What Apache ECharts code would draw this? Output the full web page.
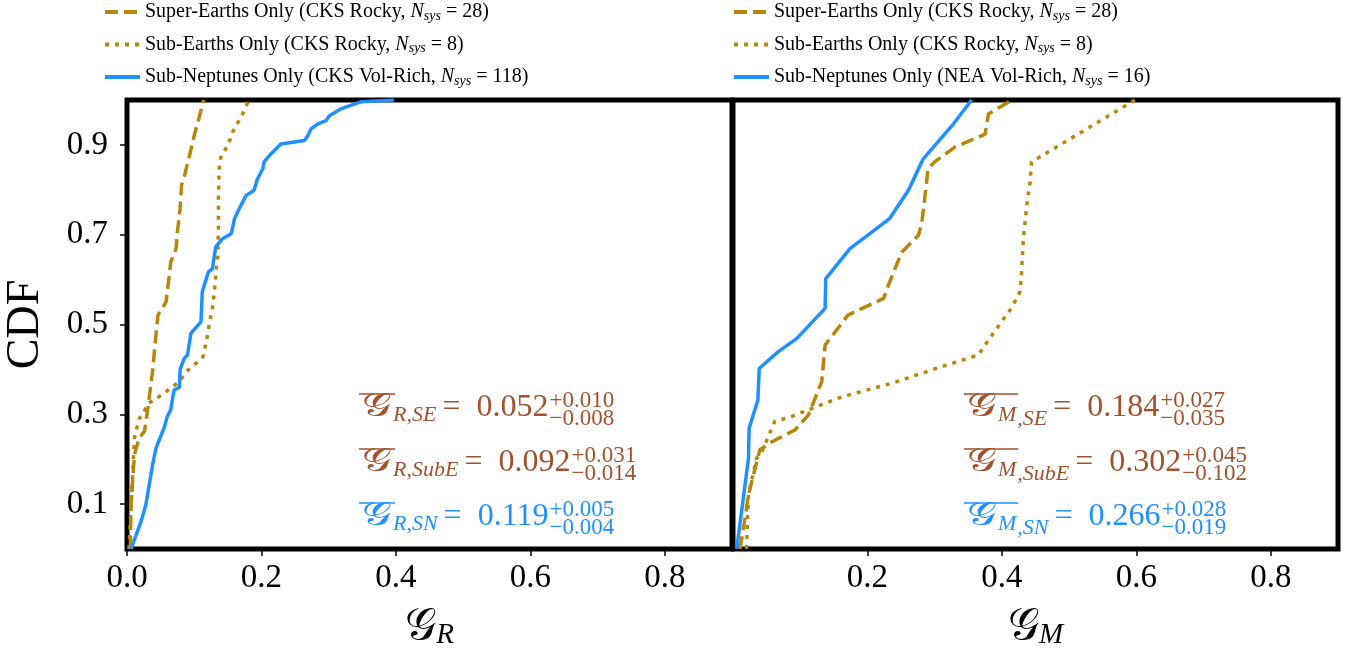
<!DOCTYPE html>
<html><head><meta charset="utf-8">
<script src="https://cdn.jsdelivr.net/npm/echarts@6/dist/echarts.min.js"></script>
<style>html,body{margin:0;padding:0;background:#fff}#c{width:1347px;height:655px}</style>
</head><body><div id="c"></div>
<script>
// ---------- DATA ----------
const nameSE = 'Super-Earths Only (CKS Rocky, N_sys = 28)';
const nameSubE = 'Sub-Earths Only (CKS Rocky, N_sys = 8)';
const nameSN_CKS = 'Sub-Neptunes Only (CKS Vol-Rich, N_sys = 118)';
const nameSN_NEA = 'Sub-Neptunes Only (NEA Vol-Rich, N_sys = 16)';

const xTicksLeft = [0.0, 0.2, 0.4, 0.6, 0.8];
const xTicksRight = [0.2, 0.4, 0.6, 0.8];
const yTicks = [0.1, 0.3, 0.5, 0.7, 0.9];

// Left panel: G_R
const seR_x = [0.005,0.006,0.011,0.018,0.026,0.031,0.038,0.043,0.046,0.058,0.063,0.065,0.073,0.075,0.079,0.081,0.085,0.093,0.100,0.108,0.114];
const seR_y = [0.0,0.098,0.21,0.247,0.262,0.313,0.395,0.476,0.521,0.55,0.61,0.639,0.669,0.706,0.758,0.81,0.828,0.876,0.921,0.965,1.0];
const subR_x = [0.003,0.011,0.018,0.023,0.031,0.041,0.051,0.065,0.078,0.088,0.100,0.113,0.119,0.122,0.127,0.130,0.132,0.135,0.136,0.136,0.137,0.140,0.150,0.157,0.165,0.172,0.181];
const subR_y = [0.0,0.247,0.29,0.298,0.324,0.332,0.343,0.358,0.373,0.395,0.41,0.428,0.469,0.498,0.536,0.573,0.61,0.654,0.713,0.78,0.847,0.876,0.898,0.928,0.95,0.969,1.0];
const snR_x = [0.006,0.021,0.028,0.038,0.043,0.055,0.060,0.065,0.070,0.078,0.079,0.085,0.090,0.095,0.110,0.112,0.121,0.127,0.132,0.142,0.155,0.160,0.167,0.177,0.189,0.194,0.202,0.204,0.214,0.229,0.264,0.269,0.274,0.284,0.296,0.301,0.318,0.338,0.348,0.397];
const snR_y = [0.0,0.062,0.098,0.187,0.224,0.269,0.295,0.31,0.354,0.36,0.40,0.424,0.432,0.48,0.506,0.573,0.617,0.624,0.673,0.691,0.702,0.736,0.758,0.787,0.799,0.824,0.847,0.862,0.88,0.902,0.91,0.921,0.936,0.947,0.954,0.965,0.98,0.991,0.996,1.0];

// Right panel: G_M
const seM_x = [0.0104,0.018,0.023,0.033,0.040,0.058,0.092,0.112,0.119,0.132,0.137,0.171,0.224,0.231,0.251,0.276,0.281,0.288,0.290,0.300,0.330,0.375,0.380,0.415];
const seM_y = [0.0,0.069,0.121,0.18,0.221,0.239,0.265,0.298,0.324,0.373,0.454,0.521,0.558,0.587,0.661,0.699,0.728,0.817,0.847,0.862,0.895,0.924,0.969,1.0];
const subM_x = [0.020,0.023,0.035,0.043,0.062,0.087,0.112,0.162,0.236,0.310,0.365,0.385,0.414,0.427,0.429,0.432,0.437,0.442,0.444,0.598];
const subM_y = [0.0,0.121,0.202,0.217,0.284,0.295,0.31,0.339,0.369,0.406,0.432,0.476,0.536,0.573,0.61,0.691,0.765,0.817,0.862,1.0];
const snM_x = [0.0055,0.023,0.024,0.037,0.039,0.067,0.095,0.137,0.138,0.174,0.233,0.261,0.283,0.328,0.355];
const snM_y = [0.0,0.202,0.269,0.332,0.402,0.439,0.469,0.536,0.602,0.669,0.736,0.799,0.869,0.947,1.0];

// Annotation texts
const annoR = [
  {sub: 'R,SE', val: '0.052', up: '+0.010', dn: '\u22120.008', kind: 'rocky'},
  {sub: 'R,SubE', val: '0.092', up: '+0.031', dn: '\u22120.014', kind: 'rocky'},
  {sub: 'R,SN', val: '0.119', up: '+0.005', dn: '\u22120.004', kind: 'sn'}
];
const annoM = [
  {sub: 'M', sub2: ',SE', val: '0.184', up: '+0.027', dn: '\u22120.035', kind: 'rocky'},
  {sub: 'M', sub2: ',SubE', val: '0.302', up: '+0.045', dn: '\u22120.102', kind: 'rocky'},
  {sub: 'M', sub2: ',SN', val: '0.266', up: '+0.028', dn: '\u22120.019', kind: 'sn'}
];

// ---------- STYLE ----------
const GOLD = '#B8860B', BLUE = '#1E90FF', SIENNA = '#A0522D';
const SERIF = '"Liberation Serif", "DejaVu Serif", serif';
const MATHF = '"Liberation Serif", "DejaVu Serif", "DejaVu Sans", serif';

const zip = (xs, ys) => xs.map((x, i) => [x, ys[i]]);

function lineSeries(name, xs, ys, idx, kind) {
  const ls = {width: 3.5, color: kind === 'sn' ? BLUE : GOLD, cap: 'butt'};
  if (kind === 'dash') { ls.type = [13, 6]; }
  if (kind === 'dot') { ls.type = [4, 6]; }
  if (kind === 'sn') { ls.type = 'solid'; }
  return {
    name, type: 'line', xAxisIndex: idx, yAxisIndex: idx,
    data: zip(xs, ys), showSymbol: false, symbol: 'none',
    lineStyle: ls, itemStyle: {color: ls.color}, animation: false, clip: true
  };
}

const legendRich = {
  it: {fontFamily: SERIF, fontStyle: 'italic', fontSize: 20, color: '#000', lineHeight: 22},
  sub: {fontFamily: SERIF, fontStyle: 'italic', fontSize: 14, color: '#000', padding: [8, 0, 0, 0], lineHeight: 22}
};
function legendFmt(name) {
  return name.replace('N_sys', '{it|N}{sub|sys}');
}
function makeLegend(left, data) {
  return {
    orient: 'vertical', left: left, top: 1, padding: 0, itemGap: 10.5,
    itemWidth: 35, itemHeight: 14, data: data, selectedMode: false,
    itemStyle: {opacity: 0, borderWidth: 0},
    lineStyle: {width: 4},
    formatter: legendFmt,
    textStyle: {fontFamily: SERIF, fontSize: 20, color: '#000', lineHeight: 22, rich: legendRich}
  };
}

const tickLabelFmt = v => Number(v).toFixed(1);

function xAxis(idx, ticks, nameSub) {
  return {
    type: 'value', gridIndex: idx, min: 0, max: 0.9,
    axisLine: {show: false},
    axisTick: {show: true, inside: false, length: 7, customValues: ticks, lineStyle: {color: '#000', width: 1.5}},
    axisLabel: {show: true, customValues: ticks, formatter: tickLabelFmt, margin: 13, fontFamily: SERIF, fontSize: 33, color: '#000'},
    splitLine: {show: false},
    name: '{g|\uD835\uDCA2}{s|' + nameSub + '}', nameLocation: 'middle', nameGap: 56,
    nameTextStyle: {rich: {
      g: {fontFamily: MATHF, fontSize: 44, color: '#000'},
      s: {fontFamily: SERIF, fontStyle: 'italic', fontSize: 29, color: '#000', padding: [16, 0, 0, 0]}
    }}
  };
}
function yAxis(idx, showLabels) {
  return {
    type: 'value', gridIndex: idx, min: 0, max: 1,
    axisLine: {show: false},
    axisTick: {show: showLabels, inside: false, length: 7, customValues: yTicks, lineStyle: {color: '#000', width: 1.5}},
    axisLabel: {show: showLabels, customValues: yTicks, formatter: tickLabelFmt, margin: 19, fontFamily: SERIF, fontSize: 33, color: '#000'},
    splitLine: {show: false},
    name: showLabels ? 'CDF' : '', nameLocation: 'middle', nameGap: 78,
    nameTextStyle: {fontFamily: SERIF, fontSize: 46, color: '#000'}
  };
}

// measurement helper for math annotations
const mctx = document.createElement('canvas').getContext('2d');
function fontStr(size, italic, fam) { return (italic ? 'italic ' : '') + size + 'px ' + (fam || SERIF); }
function measure(t, f) { mctx.font = f; return mctx.measureText(t).width; }
function txt(text, x, y, font, color) {
  return {type: 'text', style: {text: text, x: x, y: y, font: font, fill: color, verticalAlign: 'middle', align: 'left'}};
}

function mathAnno(x0, yc, a, color) {
  const children = [];
  let x = x0;
  const gF = fontStr(33, false, MATHF);
  const gW = measure('\uD835\uDCA2', gF);
  children.push(Object.assign(txt('\uD835\uDCA2', x, yc - 1, gF, color), {scaleX: 1.25, originX: x, originY: yc}));
  x += gW * 1.25 + 1;
  const sF = fontStr(22, true);
  children.push(txt(a.sub, x, yc + 7, sF, color));
  const w = measure(a.sub, sF);
  const overEnd = a.sub2 ? x + w + 2 : x0 + gW * 1.25 + 3;
  x += w;
  if (a.sub2) {
    children.push(txt(a.sub2, x + 1, yc + 11, sF, color));
    x += measure(a.sub2, sF) + 1;
  }
  children.push({type: 'line', shape: {x1: x0 - 3, y1: yc - 14, x2: overEnd, y2: yc - 14}, style: {stroke: color, lineWidth: 1.6}});
  const mF = fontStr(32, false);
  x += 6;
  children.push(txt('=', x, yc, mF, color));
  x += measure('=', mF) + 16;
  children.push(txt(a.val, x, yc, mF, color));
  x += measure(a.val, mF) + 1;
  const pF = fontStr(23, false);
  children.push(txt(a.up, x, yc - 7, pF, color));
  children.push(txt(a.dn, x, yc + 11, pF, color));
  return children;
}

const rowsY = [408, 463, 517];
let graphicEls = [];
annoR.forEach((a, i) => { graphicEls = graphicEls.concat(mathAnno(362, rowsY[i], a, a.kind === 'sn' ? BLUE : SIENNA)); });
annoM.forEach((a, i) => { graphicEls = graphicEls.concat(mathAnno(967, rowsY[i], a, a.kind === 'sn' ? BLUE : SIENNA)); });

const option = {
  backgroundColor: '#fff',
  animation: false,
  legend: [
    makeLegend(103, [nameSE, nameSubE, nameSN_CKS]),
    makeLegend(732, [nameSE, nameSubE, nameSN_NEA])
  ],
  grid: [
    {left: 127, top: 100, width: 605, height: 452, show: true, borderWidth: 5, borderColor: '#000', backgroundColor: 'transparent', containLabel: false},
    {left: 733, top: 100, width: 605, height: 452, show: true, borderWidth: 5, borderColor: '#000', backgroundColor: 'transparent', containLabel: false}
  ],
  xAxis: [xAxis(0, xTicksLeft, 'R'), xAxis(1, xTicksRight, 'M')],
  yAxis: [yAxis(0, true), yAxis(1, false)],
  series: [
    lineSeries(nameSE, seR_x, seR_y, 0, 'dash'),
    lineSeries(nameSubE, subR_x, subR_y, 0, 'dot'),
    lineSeries(nameSN_CKS, snR_x, snR_y, 0, 'sn'),
    lineSeries(nameSE, seM_x, seM_y, 1, 'dash'),
    lineSeries(nameSubE, subM_x, subM_y, 1, 'dot'),
    lineSeries(nameSN_NEA, snM_x, snM_y, 1, 'sn')
  ],
  graphic: {elements: graphicEls}
};

const chart = echarts.init(document.getElementById('c'), null, {renderer: 'canvas'});
chart.setOption(option);
</script></body></html>
